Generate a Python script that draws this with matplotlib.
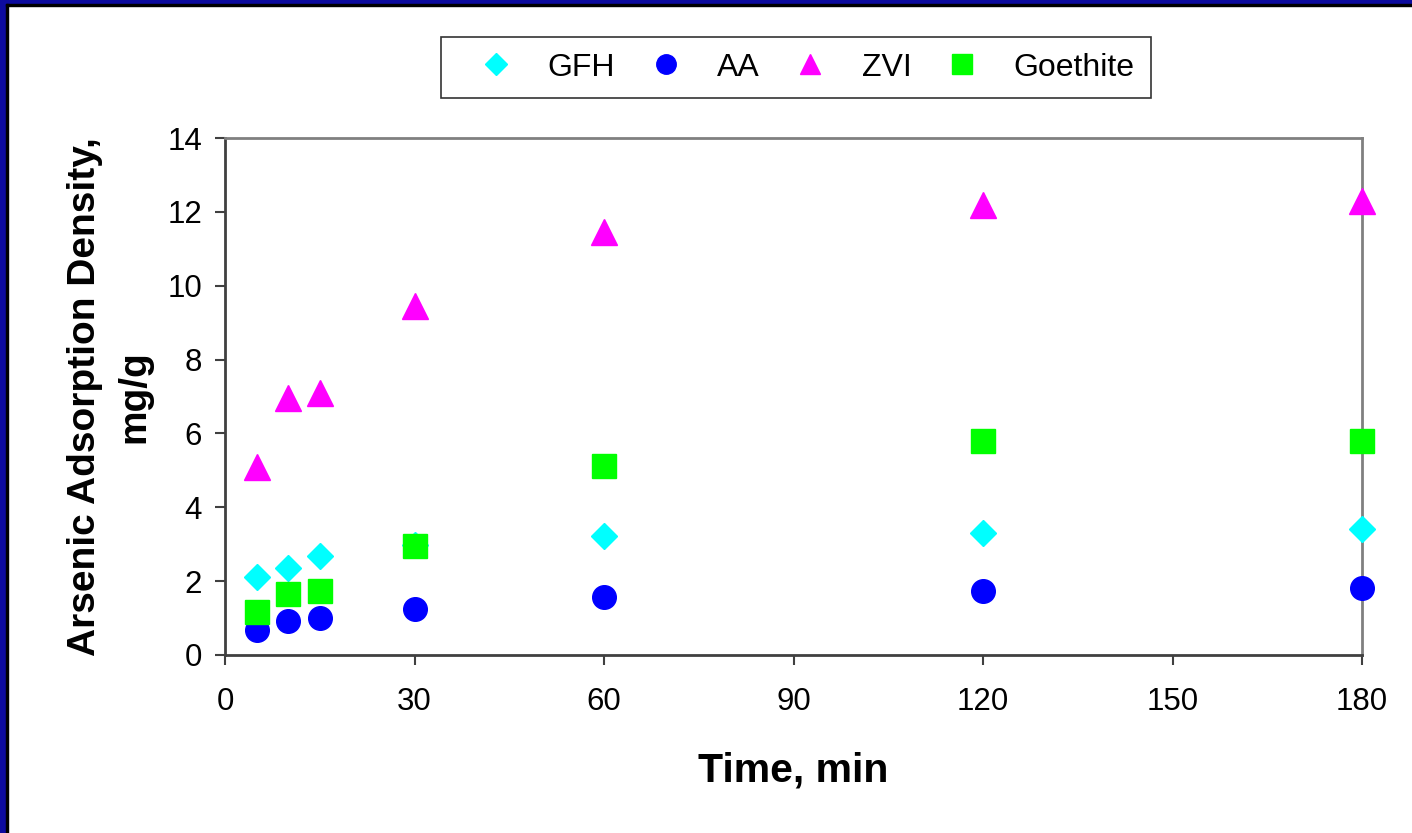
import matplotlib
matplotlib.use("Agg")
import matplotlib.pyplot as plt
from matplotlib.patches import Rectangle

plt.rcParams['font.family'] = ['Liberation Sans', 'DejaVu Sans']

time_min = [5, 10, 15, 30, 60, 120, 180]
gfh = [2.1, 2.35, 2.68, 2.98, 3.22, 3.3, 3.4]
aa = [0.68, 0.92, 1.0, 1.25, 1.57, 1.72, 1.81]
zvi = [5.1, 6.95, 7.1, 9.45, 11.45, 12.18, 12.3]
goethite = [1.16, 1.65, 1.73, 2.95, 5.12, 5.8, 5.8]

# name, values, marker, colour, size in plot, size in legend
series = [
    ("GFH", gfh, "D", "#00ffff", 13, 11),
    ("AA", aa, "o", "#0000ff", 17, 14),
    ("ZVI", zvi, "^", "#ff00ff", 19, 15),
    ("Goethite", goethite, "s", "#00ff00", 17, 14),
]

fig = plt.figure(figsize=(14.12, 8.33), dpi=100)
W, H = 1412, 833

# dark blue frame on top and left edges
fig.patches.append(Rectangle((0, 0), 6 / W, 1, transform=fig.transFigure, color="#0d0b9e", zorder=0))
fig.patches.append(Rectangle((0, 1 - 4 / H), 1, 4 / H, transform=fig.transFigure, color="#0d0b9e", zorder=0))
fig.patches.append(Rectangle((6 / W, 0), 2 / W, 1 - 4 / H, transform=fig.transFigure, color="black", zorder=0))
fig.patches.append(Rectangle((6 / W, 1 - 6 / H), 1, 2 / H, transform=fig.transFigure, color="black", zorder=0))

ax = fig.add_axes([225 / W, 1 - 655 / H, (1362 - 225) / W, (655 - 138) / H])

for name, vals, mk, col, ms, _ in series:
    ax.plot(time_min, vals, linestyle="none", marker=mk, color=col, markersize=ms,
            label=name, clip_on=False, zorder=3)

ax.set_xlim(0, 180)
ax.set_ylim(0, 14)
ax.set_xticks(range(0, 181, 30))
ax.set_yticks(range(0, 15, 2))

for s in ["left", "bottom"]:
    ax.spines[s].set_color("#404040")
    ax.spines[s].set_linewidth(2)
for s in ["top", "right"]:
    ax.spines[s].set_color("#808080")
    ax.spines[s].set_linewidth(2)

ax.tick_params(axis="both", direction="out", length=7, width=1.5, color="#404040", labelsize=22.5)
ax.tick_params(axis="y", pad=9.5)
ax.tick_params(axis="x", pad=16)

ax.set_xlabel("Time, min", fontsize=29.5, fontweight="bold", labelpad=25)
ax.set_ylabel("Arsenic Adsorption Density,\nmg/g", fontsize=28, fontweight="bold",
              labelpad=11, linespacing=1.45)

leg = fig.legend(loc="center", bbox_to_anchor=(796 / W, 1 - 67.5 / H), ncol=4,
                 fontsize=23, frameon=True, fancybox=False, edgecolor="black",
                 borderpad=0.5, handlelength=2.4, handletextpad=0.4, columnspacing=0.4)
leg.get_frame().set_linewidth(1.2)
for h, s in zip(leg.legend_handles, series):
    h.set_markersize(s[5])

fig.savefig("out.png", dpi=100)
